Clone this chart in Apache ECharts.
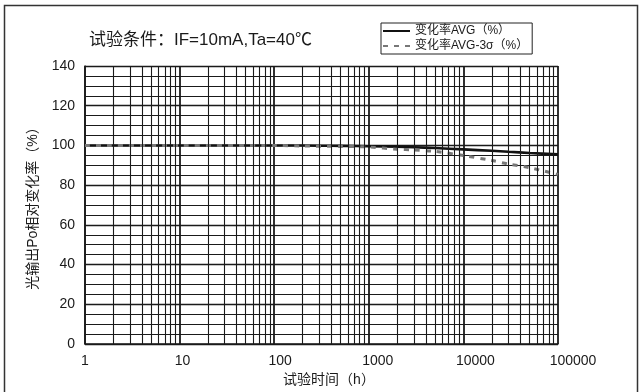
<!DOCTYPE html>
<html>
<head>
<meta charset="utf-8">
<script src="https://cdn.jsdelivr.net/npm/echarts@6/dist/echarts.min.js"></script>
<style>
html,body{margin:0;padding:0;background:#fff;}
#c{width:639px;height:392px;}
</style>
</head>
<body>
<div id="c"></div>
<script>
// ---- data ----
const hours = [1, 10, 100, 200, 500, 1000, 2000, 3000, 5000, 10000, 20000, 30000, 50000, 100000];
const avgRate = [100, 100, 100, 100, 99.8, 99.6, 99.3, 99.1, 98.7, 98.0, 97.3, 96.8, 96.2, 95.5];
const avg3Sigma = [100, 100, 100, 99.7, 99.5, 99.2, 98.1, 97.7, 97.0, 94.9, 92.4, 90.6, 88.8, 85.4];
const xTickLabels = ['1', '10', '100', '1000', '10000', '100000'];
const seriesNames = ['变化率AVG（%）', '变化率AVG-3σ（%）'];
const titleText = '试验条件：IF=10mA,Ta=40℃';
const xName = '试验时间（h）';
const yName = '光输出Po相对变化率（%）';

const FONT = "'Liberation Sans', 'Noto Sans CJK SC', sans-serif";

// minor vertical grid values (2..9 in each decade)
const minorX = [];
for (let d = 1; d <= 10000; d *= 10) {
  for (let k = 2; k <= 9; k++) minorX.push({ xAxis: k * d });
}

const chart = echarts.init(document.getElementById('c'), null, { renderer: 'canvas' });
chart.setOption({
  animation: false,
  backgroundColor: '#fff',
  textStyle: { fontFamily: FONT },
  title: {
    text: titleText,
    left: 89, top: 32, padding: 0,
    textStyle: { fontSize: 17, fontWeight: 'normal', color: '#1a1a1a', fontFamily: FONT }
  },
  legend: {
    data: seriesNames,
    orient: 'vertical',
    left: 381, top: 23,
    padding: [2, 4, 2, 1],
    itemGap: 3,
    itemWidth: 27, itemHeight: 12,
    borderColor: '#222', borderWidth: 1,
    itemStyle: { opacity: 0 },
    textStyle: { fontSize: 12, color: '#1a1a1a', fontFamily: FONT }
  },
  graphic: [{
    type: 'rect', silent: true,
    shape: { x: 4.5, y: 5.5, width: 633, height: 400 },
    style: { fill: 'none', stroke: '#333', lineWidth: 1.5 }
  }],
  grid: [
    { left: 85, top: 66, width: 473, height: 278 },
    { left: 85, top: 66, width: 488, height: 278 }
  ],
  xAxis: [{
    type: 'log', logBase: 10, min: 1, max: 100000, gridIndex: 0,
    axisLine: { show: true, lineStyle: { color: '#1a1a1a', width: 1.5 } },
    axisTick: { show: false },
    axisLabel: { show: false },
    splitLine: { show: true, lineStyle: { color: '#1a1a1a', width: 1.8 } }
  }, {
    type: 'log', logBase: 10, min: 1, max: 100000, gridIndex: 1,
    axisLine: { show: false }, axisTick: { show: false }, splitLine: { show: false },
    axisLabel: {
      show: true, margin: 12, fontSize: 14, color: '#1a1a1a', fontFamily: FONT,
      formatter: function (v) {
        const i = Math.round(Math.log10(v));
        return xTickLabels[i] !== undefined ? xTickLabels[i] : '';
      }
    },
    name: xName, nameLocation: 'middle', nameGap: 31,
    nameTextStyle: { fontSize: 14, color: '#1a1a1a', fontFamily: FONT }
  }],
  yAxis: [{
    type: 'value', min: 0, max: 140, interval: 20, gridIndex: 0,
    axisLine: { show: true, lineStyle: { color: '#1a1a1a', width: 1.5 } },
    axisTick: { show: false },
    axisLabel: { fontSize: 14, color: '#1a1a1a', margin: 10, fontFamily: FONT },
    splitLine: { show: true, lineStyle: { color: '#1a1a1a', width: 1.4 } },
    minorTick: { show: false, splitNumber: 4 },
    minorSplitLine: { show: true, lineStyle: { color: '#1a1a1a', width: 1.2 } },
    name: yName, nameLocation: 'middle', nameGap: 45,
    nameTextStyle: { fontSize: 14, color: '#1a1a1a', fontFamily: FONT }
  }, {
    type: 'value', min: 0, max: 140, gridIndex: 1, show: false
  }],
  series: [{
    name: '_grid', type: 'line', xAxisIndex: 0, yAxisIndex: 0,
    data: [[1, 0]], symbol: 'none', silent: true, z: 1,
    lineStyle: { opacity: 0 },
    markLine: {
      silent: true, symbol: ['none', 'none'], animation: false,
      label: { show: false },
      lineStyle: { color: '#1a1a1a', width: 1.1, type: 'solid' },
      emphasis: { disabled: true },
      data: minorX
    }
  }, {
    name: seriesNames[0], type: 'line', xAxisIndex: 0, yAxisIndex: 0,
    data: hours.map((t, i) => [t, avgRate[i]]),
    symbol: 'none', smooth: 0.3, z: 3,
    color: '#111',
    lineStyle: { color: '#111', width: 2.6 }
  }, {
    name: seriesNames[1], type: 'line', xAxisIndex: 0, yAxisIndex: 0,
    data: hours.map((t, i) => [t, avg3Sigma[i]]),
    symbol: 'none', smooth: 0.3, z: 4,
    color: '#777',
    lineStyle: { color: '#777', width: 3, type: [5, 6] }
  }]
});
</script>
</body>
</html>
